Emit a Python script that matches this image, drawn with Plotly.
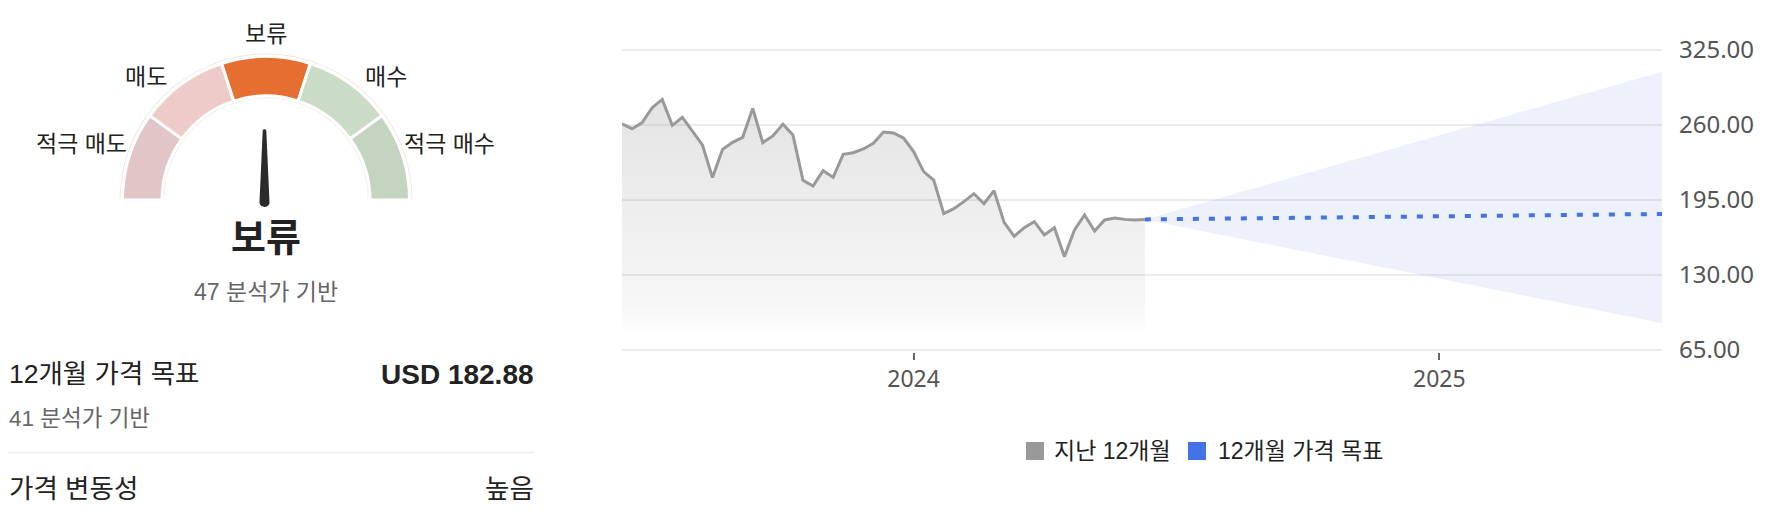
import math
import plotly.graph_objects as go

W, H = 1792, 532
OFF = 8  # page body margin offset of the figure div

# ---------------- data ----------------
gauge_labels = ["적극 매도", "매도", "보류", "매수", "적극 매수"]
gauge_colors = ["#E2C5C6", "#EECBC9", "#E56E30", "#CADBC6", "#C4D4C0"]
rating_index = 2
rating_label = "보류"
rating_analysts = 47
target_price = 182.88
target_analysts = 41
volatility_label = "높음"

hist_dates = [
    "2023-06-12", "2023-06-19", "2023-06-26", "2023-07-03", "2023-07-10", "2023-07-17",
    "2023-07-24", "2023-07-31", "2023-08-07", "2023-08-14", "2023-08-21", "2023-08-28",
    "2023-09-04", "2023-09-11", "2023-09-18", "2023-09-25", "2023-10-02", "2023-10-09",
    "2023-10-16", "2023-10-23", "2023-10-30", "2023-11-06", "2023-11-13", "2023-11-20",
    "2023-11-27", "2023-12-04", "2023-12-11", "2023-12-18", "2023-12-25", "2024-01-01",
    "2024-01-08", "2024-01-15", "2024-01-22", "2024-01-29", "2024-02-05", "2024-02-12",
    "2024-02-19", "2024-02-26", "2024-03-04", "2024-03-11", "2024-03-18", "2024-03-25",
    "2024-04-01", "2024-04-08", "2024-04-15", "2024-04-22", "2024-04-29", "2024-05-06",
    "2024-05-13", "2024-05-20", "2024-05-27", "2024-06-03", "2024-06-10",
]
hist_prices = [
    260.9, 256.8, 262.0, 275.0, 282.2, 259.7, 266.6, 254.2, 242.7, 214.4,
    238.9, 245.0, 249.3, 274.4, 244.7, 250.5, 260.6, 251.3, 212.0, 207.1,
    220.4, 214.6, 234.6, 236.0, 239.2, 244.1, 253.9, 253.1, 248.7, 236.9,
    219.6, 212.3, 183.2, 187.5, 193.6, 200.5, 191.8, 203.1, 175.6, 163.5,
    171.0, 176.2, 164.7, 171.0, 145.9, 169.0, 182.0, 168.1, 177.7, 179.4,
    178.2, 177.7, 178.2,
]
forecast_end = "2025-06-05"
target_high = 306.2
target_low = 88.1

y_ticks = [65, 130, 195, 260, 325]
x_tick_vals = ["2024-01-01", "2025-01-01"]
x_tick_text = ["2024", "2025"]
legend_names = ["지난 12개월", "12개월 가격 목표"]
legend_colors = ["#999999", "#4373E6"]

KR = "Liberation Sans, Noto Sans CJK KR, sans-serif"
AX = "Noto Sans, Noto Sans CJK KR, sans-serif"


def px(x):
    return (x - OFF) / W


def py(y):
    return 1 - (y - OFF) / H


fig = go.Figure()

# ---------------- gauge (polar) ----------------
GX, GY, GR = 266, 200, 148
seg_w = 180 / len(gauge_labels)
thetas = [180 - (i + 0.5) * seg_w for i in range(len(gauge_labels))]

fig.add_trace(go.Barpolar(theta=[90], r=[1], base=[145.5], width=[180],
                          marker=dict(color="#F6E6E1", line=dict(width=0)),
                          subplot="polar", showlegend=False, hoverinfo="skip"))
fig.add_trace(go.Barpolar(theta=[90], r=[1], base=[101.8], width=[180],
                          marker=dict(color="#F8EBE7", line=dict(width=0)),
                          subplot="polar", showlegend=False, hoverinfo="skip"))
fig.add_trace(go.Barpolar(
    theta=thetas, r=[39.5] * len(thetas), base=[104] * len(thetas),
    width=[seg_w] * len(thetas),
    marker=dict(color=gauge_colors, line=dict(color="white", width=3)),
    subplot="polar", showlegend=False, hovertext=gauge_labels, hoverinfo="text",
))

fig.update_layout(polar=dict(
    domain=dict(x=[px(GX - GR), px(GX + GR)], y=[py(GY), py(GY - GR)]),
    sector=[0, 180], hole=0, bgcolor="rgba(0,0,0,0)",
    radialaxis=dict(visible=False, range=[0, GR], showgrid=False),
    angularaxis=dict(visible=False, direction="counterclockwise", rotation=0,
                     showgrid=False),
))

# needle, oriented from the rating
ang = math.radians(thetas[rating_index])
NX, NY = 264.5, 202.0
L, bw, tw = 71.0, 5.0, 1.8
ux, uy = math.cos(ang), -math.sin(ang)
nx, ny = math.sin(ang), math.cos(ang)


def P(x, y):
    return f"{px(x):.6f},{py(y):.6f}"


tipx, tipy = NX + ux * L, NY + uy * L
path = (
    f"M{P(NX + nx * bw, NY + ny * bw)} "
    f"L{P(tipx + nx * tw, tipy + ny * tw)} "
    f"C{P(tipx + nx * tw + ux * 2.4, tipy + ny * tw + uy * 2.4)} "
    f"{P(tipx - nx * tw + ux * 2.4, tipy - ny * tw + uy * 2.4)} "
    f"{P(tipx - nx * tw, tipy - ny * tw)} "
    f"L{P(NX - nx * bw, NY - ny * bw)} "
    f"C{P(NX - nx * bw - ux * 6.6, NY - ny * bw - uy * 6.6)} "
    f"{P(NX + nx * bw - ux * 6.6, NY + ny * bw - uy * 6.6)} "
    f"{P(NX + nx * bw, NY + ny * bw)} Z"
)
shapes = [dict(type="path", xref="paper", yref="paper", path=path,
               fillcolor="#2B2B2B", line=dict(width=0))]

annotations = []


def text(x, y, s, size, color="#222222", anchor="center", bold=False, family=KR):
    annotations.append(dict(
        x=px(x), y=py(y), xref="paper", yref="paper", text=s, showarrow=False,
        xanchor=anchor, yanchor="middle",
        font=dict(size=size, color=color, family=family,
                  weight="bold" if bold else "normal"),
        borderpad=0,
    ))


label_pos = [(81.7, 144), (146.3, 77), (265.7, 33.5), (386.3, 77), (449.7, 144)]
for (lx, ly), lab in zip(label_pos, gauge_labels):
    text(lx, ly, lab, 23)

text(266, 238, rating_label, 38, bold=True)
text(266, 292, f"{rating_analysts} 분석가 기반", 23, color="#666666")

text(OFF, 374, "12개월 가격 목표", 26.5, anchor="left")
text(535, 374, f"USD {target_price:.2f}", 28, anchor="right", bold=True)
text(OFF, 418, f"{target_analysts} 분석가 기반", 22.5, color="#666666", anchor="left")
shapes.append(dict(type="line", xref="paper", yref="paper", x0=px(OFF), x1=px(534),
                   y0=py(452.5), y1=py(452.5), line=dict(color="#EBEBEB", width=1.5)))
text(OFF, 489, "가격 변동성", 26.5, anchor="left")
text(535, 489, volatility_label, 26.5, anchor="right")

# ---------------- price chart ----------------
fig.add_trace(go.Scatter(
    x=hist_dates, y=hist_prices, mode="lines",
    line=dict(color=legend_colors[0], width=3),
    fill="tozeroy",
    fillgradient=dict(type="vertical", start=78, stop=290,
                      colorscale=[[0, "rgba(120,120,120,0)"],
                                  [0.12, "rgba(120,120,120,0.06)"],
                                  [1, "rgba(120,120,120,0.21)"]]),
    name=legend_names[0], showlegend=False,
))
last_d, last_p = hist_dates[-1], hist_prices[-1]
fig.add_trace(go.Scatter(
    x=[last_d, forecast_end, forecast_end, last_d],
    y=[last_p, target_high, target_low, last_p],
    mode="lines", fill="toself", fillcolor="rgba(67,115,230,0.10)",
    line=dict(width=0), showlegend=False, hoverinfo="skip",
))
fig.add_trace(go.Scatter(
    x=[last_d, forecast_end], y=[last_p, target_price], mode="lines",
    line=dict(color=legend_colors[1], width=4, dash="6px,10px"),
    name=legend_names[1], showlegend=False,
))

# y range padded slightly so the 65 / 325 gridlines are drawn
ypad = 1.3
unit = 300 / 260.0
fig.update_layout(
    xaxis=dict(domain=[px(622), px(1662)], type="date",
               range=[hist_dates[0], forecast_end],
               tickvals=x_tick_vals, ticktext=x_tick_text,
               ticks="outside", ticklen=7, tickwidth=1.5, tickcolor="#666666",
               showgrid=False, zeroline=False, showline=False, automargin=False,
               tickfont=dict(family=AX, size=23, color="#555555")),
    yaxis=dict(domain=[py(350 + ypad * unit), py(50 - ypad * unit)],
               range=[65 - ypad, 325 + ypad], side="right",
               tickvals=y_ticks, tickformat=".2f", ticks="",
               showgrid=True, gridcolor="#ECECEC", gridwidth=2,
               zeroline=False, showline=False, ticklabelstandoff=16, automargin=False,
               tickfont=dict(family=AX, size=24, color="#555555")),
)

# legend (manual)
leg = [(1026, 1053), (1188, 1217)]
for (sx, tx), name, col in zip(leg, legend_names, legend_colors):
    shapes.append(dict(type="rect", xref="paper", yref="paper",
                       x0=px(sx), x1=px(sx + 18), y0=py(460), y1=py(442),
                       fillcolor=col, line=dict(width=0)))
    text(tx, 451, name, 23, anchor="left")

fig.update_layout(
    width=W, height=H, autosize=False,
    margin=dict(l=0, r=0, t=0, b=0, autoexpand=False),
    paper_bgcolor="white", plot_bgcolor="white",
    showlegend=False, shapes=shapes, annotations=annotations,
)

fig.write_html("out.html")
